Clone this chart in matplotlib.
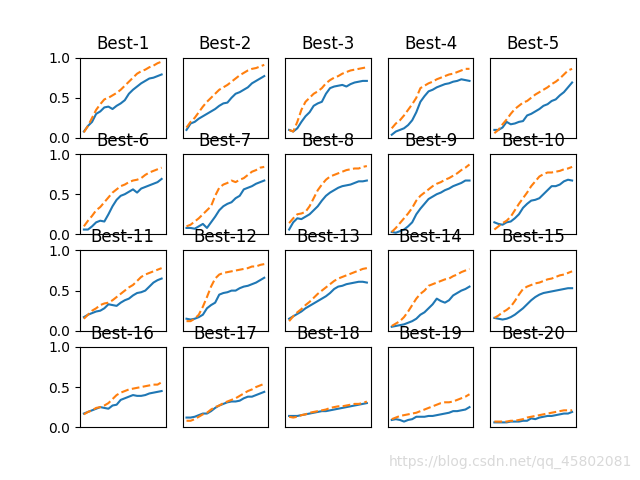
import matplotlib
matplotlib.use("Agg")
import matplotlib.pyplot as plt

titles = ["Best-%d" % i for i in range(1, 21)]

# solid blue series (one list per panel)
blue = [
    [0.08,0.15,0.2,0.3,0.33,0.38,0.39,0.36,0.4,0.43,0.47,0.55,0.6,0.64,0.68,0.71,0.74,0.75,0.77,0.79],
    [0.1,0.18,0.2,0.24,0.27,0.3,0.33,0.36,0.4,0.43,0.44,0.5,0.55,0.57,0.6,0.63,0.68,0.71,0.74,0.77],
    [0.1,0.08,0.12,0.2,0.27,0.32,0.4,0.43,0.45,0.55,0.62,0.64,0.65,0.66,0.64,0.67,0.69,0.7,0.71,0.71],
    [0.04,0.08,0.1,0.12,0.16,0.22,0.32,0.45,0.52,0.58,0.6,0.63,0.65,0.67,0.68,0.7,0.71,0.73,0.72,0.71],
    [0.1,0.1,0.13,0.2,0.17,0.18,0.2,0.21,0.28,0.3,0.33,0.36,0.4,0.42,0.46,0.48,0.53,0.57,0.63,0.69],
    [0.06,0.06,0.1,0.15,0.17,0.16,0.25,0.35,0.43,0.48,0.5,0.53,0.56,0.52,0.57,0.59,0.61,0.63,0.65,0.69],
    [0.08,0.08,0.07,0.1,0.13,0.08,0.15,0.22,0.3,0.35,0.38,0.4,0.45,0.48,0.56,0.58,0.6,0.63,0.65,0.67],
    [0.06,0.15,0.2,0.19,0.22,0.25,0.3,0.35,0.42,0.48,0.52,0.55,0.58,0.6,0.61,0.62,0.64,0.66,0.66,0.67],
    [0.03,0.02,0.04,0.06,0.1,0.15,0.25,0.32,0.38,0.44,0.47,0.5,0.52,0.55,0.57,0.6,0.62,0.64,0.67,0.67],
    [0.15,0.13,0.12,0.15,0.16,0.2,0.25,0.33,0.38,0.42,0.43,0.45,0.5,0.55,0.6,0.6,0.62,0.66,0.68,0.67],
    [0.17,0.2,0.22,0.24,0.25,0.28,0.33,0.32,0.31,0.35,0.38,0.4,0.44,0.47,0.48,0.5,0.55,0.6,0.63,0.65],
    [0.15,0.14,0.15,0.17,0.2,0.28,0.32,0.35,0.45,0.47,0.48,0.5,0.5,0.53,0.55,0.56,0.58,0.6,0.63,0.66],
    [0.15,0.18,0.21,0.24,0.28,0.31,0.34,0.37,0.4,0.43,0.47,0.52,0.55,0.56,0.58,0.59,0.6,0.61,0.61,0.6],
    [0.05,0.06,0.07,0.08,0.1,0.12,0.15,0.2,0.23,0.28,0.33,0.4,0.37,0.35,0.38,0.44,0.47,0.5,0.52,0.55],
    [0.16,0.15,0.14,0.15,0.17,0.2,0.24,0.28,0.33,0.38,0.42,0.45,0.47,0.48,0.49,0.5,0.51,0.52,0.53,0.53],
    [0.17,0.19,0.21,0.23,0.25,0.24,0.23,0.27,0.28,0.34,0.36,0.38,0.4,0.39,0.39,0.4,0.42,0.43,0.44,0.45],
    [0.12,0.12,0.13,0.15,0.17,0.17,0.2,0.24,0.27,0.29,0.31,0.32,0.32,0.33,0.36,0.38,0.38,0.4,0.42,0.44],
    [0.14,0.14,0.14,0.15,0.16,0.17,0.18,0.19,0.2,0.2,0.21,0.22,0.23,0.24,0.25,0.26,0.27,0.28,0.29,0.3],
    [0.09,0.1,0.09,0.07,0.09,0.1,0.13,0.13,0.13,0.14,0.14,0.15,0.16,0.17,0.18,0.2,0.2,0.21,0.22,0.25],
    [0.06,0.06,0.06,0.06,0.07,0.07,0.07,0.08,0.08,0.11,0.1,0.12,0.13,0.14,0.14,0.15,0.16,0.17,0.17,0.19],
]

# dashed orange series
orange = [
    [0.07,0.15,0.25,0.35,0.42,0.48,0.5,0.53,0.56,0.6,0.65,0.7,0.75,0.8,0.83,0.85,0.88,0.9,0.93,0.95],
    [0.13,0.2,0.25,0.32,0.39,0.45,0.5,0.55,0.6,0.63,0.66,0.7,0.74,0.78,0.81,0.84,0.86,0.87,0.89,0.91],
    [0.1,0.08,0.2,0.35,0.45,0.5,0.55,0.58,0.62,0.68,0.72,0.75,0.77,0.8,0.82,0.84,0.85,0.86,0.87,0.88],
    [0.12,0.18,0.22,0.28,0.35,0.42,0.5,0.62,0.65,0.68,0.7,0.73,0.75,0.77,0.79,0.8,0.82,0.84,0.86,0.86],
    [0.06,0.1,0.17,0.23,0.3,0.36,0.4,0.44,0.46,0.5,0.54,0.57,0.6,0.63,0.67,0.7,0.74,0.79,0.84,0.86],
    [0.1,0.17,0.23,0.3,0.34,0.4,0.46,0.52,0.56,0.6,0.62,0.65,0.67,0.68,0.7,0.74,0.77,0.79,0.81,0.83],
    [0.1,0.12,0.16,0.2,0.25,0.3,0.35,0.48,0.58,0.62,0.64,0.67,0.65,0.68,0.7,0.74,0.78,0.8,0.83,0.84],
    [0.14,0.2,0.25,0.26,0.28,0.35,0.45,0.55,0.62,0.68,0.72,0.74,0.76,0.78,0.8,0.81,0.82,0.82,0.84,0.85],
    [0.03,0.08,0.14,0.2,0.26,0.33,0.42,0.48,0.52,0.56,0.6,0.63,0.65,0.68,0.7,0.73,0.76,0.8,0.83,0.87],
    [0.06,0.1,0.14,0.17,0.22,0.3,0.38,0.45,0.52,0.6,0.66,0.72,0.75,0.77,0.77,0.78,0.79,0.81,0.82,0.84],
    [0.15,0.2,0.25,0.28,0.32,0.34,0.35,0.38,0.42,0.46,0.5,0.54,0.57,0.62,0.67,0.7,0.72,0.74,0.76,0.78],
    [0.12,0.12,0.15,0.2,0.3,0.42,0.55,0.65,0.7,0.72,0.73,0.74,0.75,0.76,0.77,0.78,0.8,0.8,0.82,0.83],
    [0.12,0.18,0.23,0.27,0.32,0.36,0.41,0.46,0.5,0.54,0.58,0.62,0.65,0.67,0.69,0.71,0.73,0.75,0.77,0.78],
    [0.06,0.09,0.12,0.17,0.24,0.32,0.4,0.46,0.5,0.56,0.58,0.6,0.62,0.64,0.65,0.68,0.7,0.73,0.75,0.77],
    [0.16,0.19,0.23,0.26,0.3,0.37,0.45,0.52,0.55,0.57,0.59,0.6,0.62,0.64,0.65,0.67,0.69,0.7,0.72,0.74],
    [0.16,0.19,0.21,0.24,0.25,0.27,0.3,0.35,0.4,0.43,0.45,0.47,0.48,0.49,0.5,0.51,0.52,0.53,0.53,0.56],
    [0.08,0.08,0.1,0.13,0.16,0.18,0.22,0.25,0.27,0.3,0.32,0.34,0.36,0.39,0.42,0.45,0.47,0.5,0.52,0.54],
    [0.13,0.12,0.13,0.15,0.16,0.18,0.19,0.2,0.21,0.22,0.24,0.25,0.26,0.26,0.27,0.28,0.29,0.29,0.3,0.32],
    [0.1,0.12,0.14,0.15,0.16,0.17,0.18,0.2,0.22,0.24,0.26,0.28,0.3,0.31,0.31,0.32,0.34,0.36,0.38,0.41],
    [0.07,0.07,0.07,0.07,0.08,0.08,0.09,0.1,0.12,0.13,0.14,0.15,0.16,0.17,0.18,0.19,0.2,0.21,0.21,0.21],
]

fig = plt.figure(figsize=(6.4, 4.8))
for i in range(20):
    ax = fig.add_subplot(4, 5, i + 1)
    ax.plot(blue[i], color="C0")
    ax.plot(orange[i], color="C1", linestyle="--")
    ax.set_title(titles[i])
    ax.set_ylim(0, 1)
    ax.set_xticks([])
    if i % 5 == 0:
        ax.set_yticks([0, 0.5, 1.0])
    else:
        ax.set_yticks([])

# watermark from the source image
fig.text(0.988, 0.038, "https://blog.csdn.net/qq_45802081", ha="right", va="center",
         color="#d9d9d9", fontsize=10)

fig.savefig("out.png", dpi=100)
